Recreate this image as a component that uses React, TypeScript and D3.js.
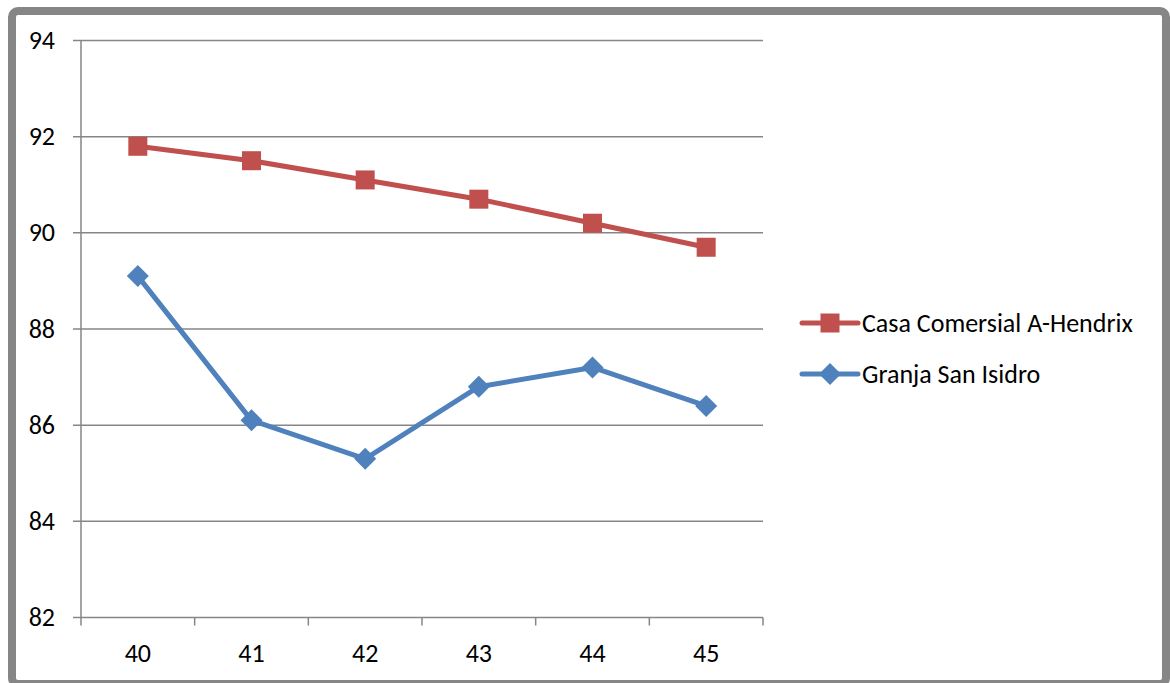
import React from "react";
import * as d3 from "d3";

const categories = ["40", "41", "42", "43", "44", "45"];
const casaValues = [91.8, 91.5, 91.1, 90.7, 90.2, 89.7];
const granjaValues = [89.1, 86.1, 85.3, 86.8, 87.2, 86.4];
const yTicks = [82, 84, 86, 88, 90, 92, 94];

const series = [
  { name: "Casa Comersial A-Hendrix", values: casaValues, color: "#C0504D", marker: "square" },
  { name: "Granja San Isidro", values: granjaValues, color: "#4F81BD", marker: "diamond" },
];

const W = 1170;
const H = 683;
const plot = { left: 81, right: 763, top: 40.5, bottom: 617.5 };
const font = "Calibri, Carlito, 'Open Sans', sans-serif";

function Marker({ type, x, y, color }: { type: string; x: number; y: number; color: string }) {
  if (type === "square") {
    return <rect x={x - 9.5} y={y - 9.5} width={19} height={19} fill={color} />;
  }
  const r = 11;
  return (
    <path d={`M${x},${y - r}L${x + r},${y}L${x},${y + r}L${x - r},${y}Z`} fill={color} />
  );
}

export default function App() {
  const x = d3.scaleBand().domain(categories).range([plot.left, plot.right]);
  const y = d3.scaleLinear().domain([82, 94]).range([plot.bottom, plot.top]);
  const cx = (c: string) => (x(c) ?? 0) + x.bandwidth() / 2;
  const line = d3
    .line<number>()
    .x((_, i) => cx(categories[i]))
    .y((d) => y(d));
  const grid = "#868686";
  const boundaries = categories.map((c) => x(c) ?? 0).concat([plot.right]);

  return (
    <svg
      width={W}
      height={H}
      style={{ position: "absolute", left: 0, top: 0, background: "#fff" }}
      fontFamily={font}
    >
      <rect x={12} y={11} width={1154} height={673} rx={6} fill="#fff" stroke="#868686" strokeWidth={8} />
      {yTicks.map((t) => (
        <g key={t}>
          <line x1={plot.left - 8} x2={plot.right} y1={y(t)} y2={y(t)} stroke={grid} strokeWidth={1.5} />
          <text x={55} y={y(t) + 8.5} textAnchor="end" fontSize={26} fill="#000">
            {t}
          </text>
        </g>
      ))}
      <line x1={plot.left} x2={plot.left} y1={plot.top} y2={plot.bottom} stroke={grid} strokeWidth={1.5} />
      {boundaries.map((b, i) => (
        <line key={i} x1={b} x2={b} y1={plot.bottom} y2={plot.bottom + 8} stroke={grid} strokeWidth={1.5} />
      ))}
      {categories.map((c) => (
        <text key={c} x={cx(c)} y={662} textAnchor="middle" fontSize={26} fill="#000">
          {c}
        </text>
      ))}
      {series.map((s) => (
        <g key={s.name}>
          <path d={line(s.values) ?? ""} fill="none" stroke={s.color} strokeWidth={5} strokeLinejoin="round" />
          {s.values.map((v, i) => (
            <Marker key={i} type={s.marker} x={cx(categories[i])} y={y(v)} color={s.color} />
          ))}
        </g>
      ))}
      {series.map((s, i) => {
        const ly = 323 + i * 51;
        return (
          <g key={s.name}>
            <line x1={802} x2={858} y1={ly} y2={ly} stroke={s.color} strokeWidth={5} strokeLinecap="round" />
            <Marker type={s.marker} x={830} y={ly} color={s.color} />
            <text x={862} y={ly + 9} fontSize={26} fill="#000">
              {s.name}
            </text>
          </g>
        );
      })}
    </svg>
  );
}
